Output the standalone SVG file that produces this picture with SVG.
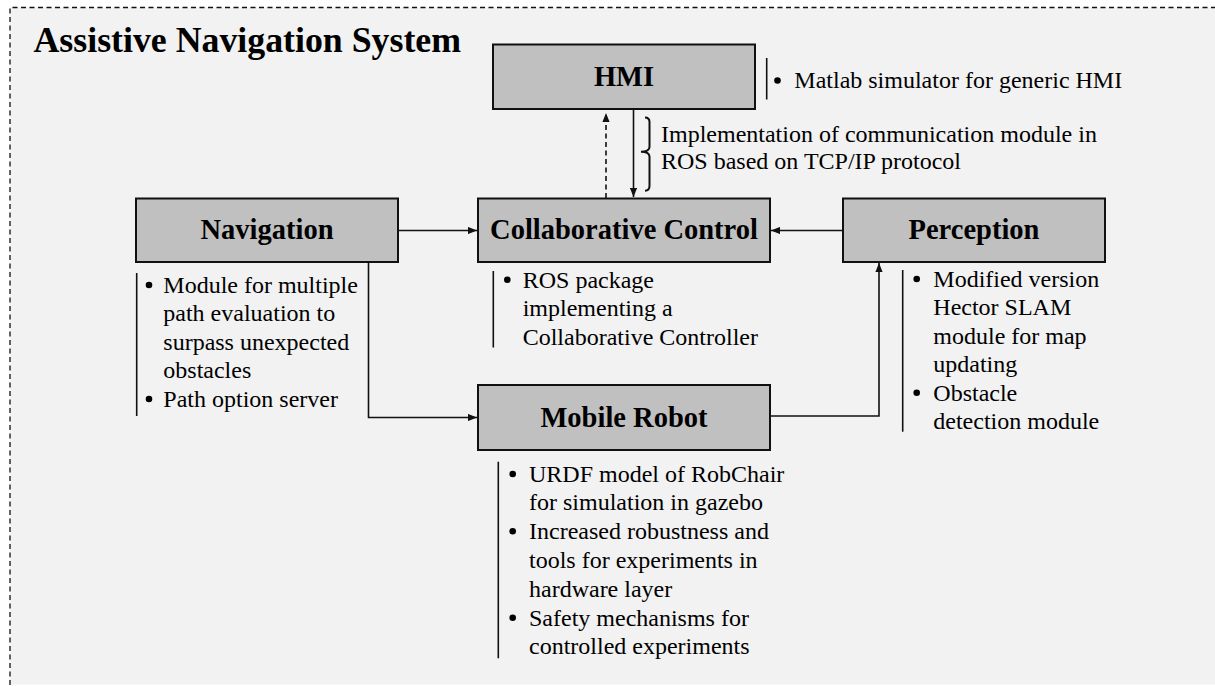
<svg xmlns="http://www.w3.org/2000/svg" width="1215" height="686" viewBox="0 0 1215 686">
  <defs>
    <style>
      .box { fill: #c0c0c0; stroke: #111; stroke-width: 2; }
      .label { font-family: "Liberation Serif", "Times New Roman", serif; font-weight: bold; font-size: 28.5px; fill: #000; text-anchor: middle; }
      .title { font-family: "Liberation Serif", "Times New Roman", serif; font-weight: bold; font-size: 35.8px; fill: #000; }
      .note { font-family: "Liberation Serif", "Times New Roman", serif; font-size: 24px; fill: #000; }
      .dot { fill: #000; }
      .bar { stroke: #111; stroke-width: 1.6; fill: none; }
      .wire { stroke: #111; stroke-width: 1.6; fill: none; }
      .dashed { stroke-dasharray: 5 3.5; }
    </style>
    <marker id="arrow" viewBox="0 0 10 8" refX="10" refY="4" markerUnits="userSpaceOnUse" markerWidth="9" markerHeight="7.5" orient="auto">
      <path d="M0,0 L10,4 L0,8 Z" fill="#111"/>
    </marker>
  </defs>

  <!-- system frame -->
  <g id="frame">
    <rect x="10" y="7.5" width="1210" height="677" fill="#f2f2f2"/>
    <path d="M10,685 V7.5 H1215" fill="none" stroke="#111" stroke-width="1.3" stroke-dasharray="5 3.5"/>
    <text class="title" x="33.5" y="51.7">Assistive Navigation System</text>
  </g>

  <!-- connectors -->
  <g id="connectors">
    <path class="wire" d="M398,230.5 H477" marker-end="url(#arrow)"/>
    <path class="wire" d="M843,230.5 H771" marker-end="url(#arrow)"/>
    <path class="wire" d="M633.5,109.5 V197" marker-end="url(#arrow)"/>
    <path class="wire dashed" d="M606,198 V113" marker-end="url(#arrow)"/>
    <path class="wire" d="M368.5,262 V417.5 H477" marker-end="url(#arrow)"/>
    <path class="wire" d="M771,416 H879 V263" marker-end="url(#arrow)"/>
    <!-- brace grouping the link description -->
    <path d="M645,117.5 Q649.5,117.5 649.5,122 V147 Q649.5,151.5 641,151.7 Q649.5,152 649.5,156.5 V186 Q649.5,190.7 645,190.7" fill="none" stroke="#111" stroke-width="2"/>
    <text class="note" x="661" y="141.7">Implementation of communication module in</text>
    <text class="note" x="661" y="169.3">ROS based on TCP/IP protocol</text>
  </g>

  <g id="hmi">
    <rect class="box" x="493" y="44.5" width="262" height="64.5"/>
    <text class="label" x="624" y="86">HMI</text>
    <path class="bar" d="M766.7,58 V99.5"/>
    <circle class="dot" cx="777.5" cy="80.5" r="3.3"/>
    <text class="note" x="794.3" y="88.3">Matlab simulator for generic HMI</text>
  </g>

  <g id="navigation">
    <rect class="box" x="136" y="198.5" width="262" height="63.5"/>
    <text class="label" x="267" y="239.3">Navigation</text>
    <path class="bar" d="M136.7,273 V416"/>
    <circle class="dot" cx="149" cy="285" r="3.3"/>
    <text class="note" x="163.3" y="292.7">Module for multiple</text>
    <text class="note" x="163.3" y="321">path evaluation to</text>
    <text class="note" x="163.3" y="349.5">surpass unexpected</text>
    <text class="note" x="163.3" y="378">obstacles</text>
    <circle class="dot" cx="149" cy="399" r="3.3"/>
    <text class="note" x="163.3" y="406.7">Path option server</text>
  </g>

  <g id="collaborative-control">
    <rect class="box" x="478" y="198.5" width="292" height="63.5"/>
    <text class="label" x="624" y="239.3">Collaborative Control</text>
    <path class="bar" d="M493.3,271 V347.5"/>
    <circle class="dot" cx="507.3" cy="279.8" r="3.3"/>
    <text class="note" x="522.7" y="287.5">ROS package</text>
    <text class="note" x="522.7" y="316">implementing a</text>
    <text class="note" x="522.7" y="344.5">Collaborative Controller</text>
  </g>

  <g id="perception">
    <rect class="box" x="843" y="198.5" width="262" height="63.5"/>
    <text class="label" x="974" y="239.3">Perception</text>
    <path class="bar" d="M902.7,270 V431.7"/>
    <circle class="dot" cx="916.7" cy="279" r="3.3"/>
    <text class="note" x="933.3" y="286.7">Modified version</text>
    <text class="note" x="933.3" y="315">Hector SLAM</text>
    <text class="note" x="933.3" y="343.5">module for map</text>
    <text class="note" x="933.3" y="372">updating</text>
    <circle class="dot" cx="916.7" cy="392.8" r="3.3"/>
    <text class="note" x="933.3" y="400.5">Obstacle</text>
    <text class="note" x="933.3" y="429">detection module</text>
  </g>

  <g id="mobile-robot">
    <rect class="box" x="478" y="385" width="292" height="65"/>
    <text class="label" x="624" y="426.7">Mobile Robot</text>
    <path class="bar" d="M498.3,461.7 V658.3"/>
    <circle class="dot" cx="512.7" cy="474" r="3.3"/>
    <text class="note" x="529" y="481.7">URDF model of RobChair</text>
    <text class="note" x="529" y="510.3">for simulation in gazebo</text>
    <circle class="dot" cx="512.7" cy="531.3" r="3.3"/>
    <text class="note" x="529" y="539">Increased robustness and</text>
    <text class="note" x="529" y="567.7">tools for experiments in</text>
    <text class="note" x="529" y="596.5">hardware layer</text>
    <circle class="dot" cx="512.7" cy="617.8" r="3.3"/>
    <text class="note" x="529" y="625.5">Safety mechanisms for</text>
    <text class="note" x="529" y="654">controlled experiments</text>
  </g>
</svg>
